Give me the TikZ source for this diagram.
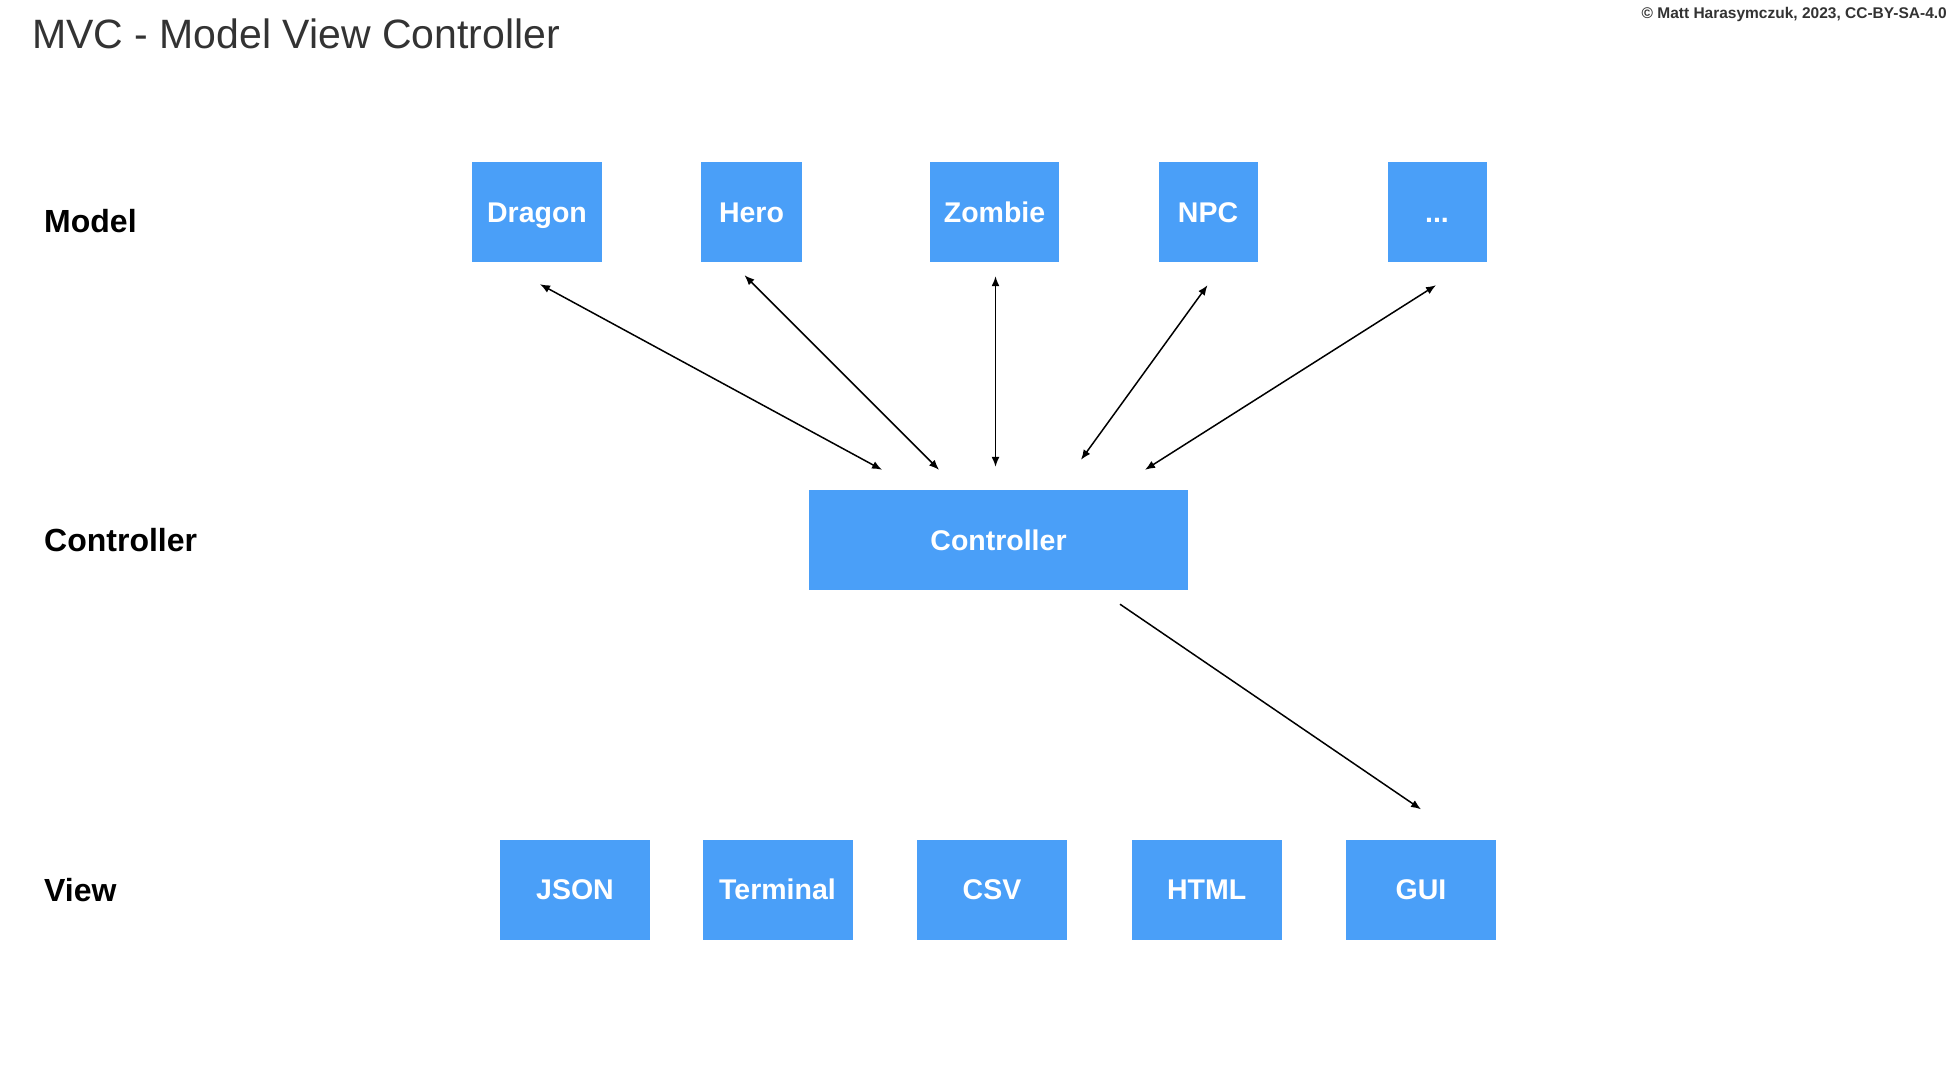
\documentclass[tikz,border=0pt]{standalone}
\usepackage{fontspec}
\setmainfont{Liberation Sans}
\usetikzlibrary{arrows.meta,calc}
\definecolor{boxblue}{RGB}{74,159,248}
\definecolor{titlegray}{RGB}{51,51,51}
\begin{document}
\begin{tikzpicture}[x=1pt,y=-1pt,
  blk/.style={fill=boxblue,draw=none,inner sep=0pt,text=white,
    font=\fontsize{28.5}{34}\selectfont\bfseries,
    text height=20.5pt,text depth=0pt,minimum height=100pt},
  lbl/.style={anchor=base west,inner sep=0pt,
    font=\fontsize{32}{38}\selectfont\bfseries,text=black},
  conn/.style={line width=1.5pt,draw=black},
  biarrow/.style={conn,{Latex[length=10pt,width=8pt]}-{Latex[length=10pt,width=8pt]}},
  onearrow/.style={conn,-{Latex[length=10pt,width=8pt]}}
]
\fill[white] (0,0) rectangle (1960,1080);
\useasboundingbox (0,0) rectangle (1960,1080);

% title and copyright
\node[anchor=base west,inner sep=0pt,text=titlegray,
  font=\fontsize{41}{49}\selectfont] (title) at (32,48) {MVC - Model View Controller};
\node[anchor=base east,inner sep=0pt,text=titlegray,
  font=\fontsize{15.5}{18}\selectfont\bfseries] (copy) at (1947,18.3)
  {© Matt Harasymczuk, 2023, CC-BY-SA-4.0};

% row labels
\node[lbl] (lmodel) at (44,232.5) {Model};
\node[lbl] (lctrl) at (44,551.5) {Controller};
\node[lbl] (lview) at (44,901.7) {View};

% model row
\node[blk,minimum width=130pt] (dragon) at (537,212) {Dragon};
\node[blk,minimum width=101pt] (hero) at (751.5,212) {Hero};
\node[blk,minimum width=129pt] (zombie) at (994.5,212) {Zombie};
\node[blk,minimum width=99pt] (npc) at (1208,212) {NPC};
\node[blk,minimum width=99pt] (dots) at (1437,212) {...};

% controller
\node[blk,minimum width=379pt] (ctrl) at (998.5,540) {Controller};

% view row
\node[blk,minimum width=150pt] (json) at (575,889.5) {JSON};
\node[blk,minimum width=150pt] (term) at (777.5,889.5) {Terminal};
\node[blk,minimum width=150pt] (csv) at (992,889.5) {CSV};
\node[blk,minimum width=150pt] (html) at (1206.7,889.5) {HTML};
\node[blk,minimum width=150pt] (gui) at (1421,889.5) {GUI};

% connector end points
\coordinate (dA) at ($(dragon.south)+(3,22)$);
\coordinate (dB) at ($(ctrl.north)+(-116.5,-20)$);
\coordinate (hA) at ($(hero.south)+(-7,13)$);
\coordinate (hB) at ($(ctrl.north)+(-59.5,-20)$);
\coordinate (zA) at ($(zombie.south)+(1,14)$);
\coordinate (zB) at ($(ctrl.north)+(-3,-23)$);
\coordinate (nA) at ($(npc.south)+(-0.5,23)$);
\coordinate (nB) at ($(ctrl.north)+(82.5,-30)$);
\coordinate (eA) at ($(dots.south)+(-1,23)$);
\coordinate (eB) at ($(ctrl.north)+(146.5,-20)$);
\coordinate (gA) at ($(ctrl.south)+(121.5,14)$);
\coordinate (gB) at ($(gui.north)+(0,-30)$);

% connectors
\draw[biarrow] (dA) -- (dB);
\draw[biarrow] (hA) -- (hB);
\draw[biarrow] (zA) -- (zB);
\draw[biarrow] (nA) -- (nB);
\draw[biarrow] (eA) -- (eB);
\draw[onearrow] (gA) -- (gB);
\end{tikzpicture}
\end{document}
